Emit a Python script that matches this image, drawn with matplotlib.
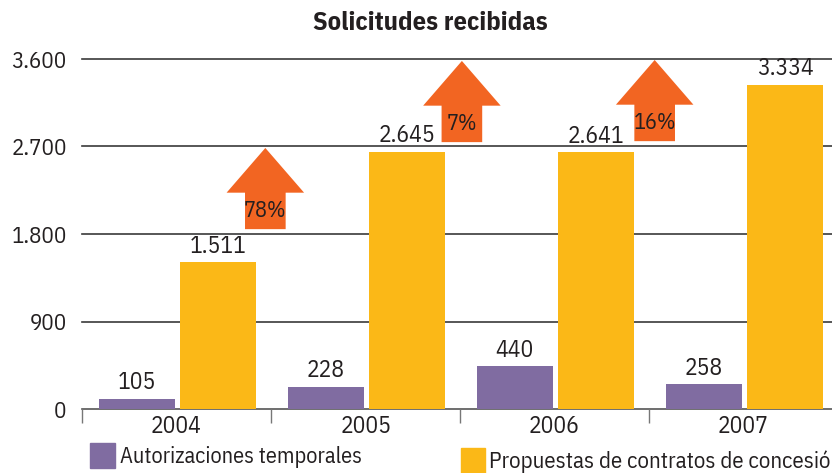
import matplotlib
matplotlib.use('Agg')
import matplotlib.pyplot as plt
from matplotlib.patches import FancyArrow, Rectangle
import numpy as np

# datos
anios = ['2004', '2005', '2006', '2007']
autorizaciones = [105, 228, 440, 258]
propuestas = [1511, 2645, 2641, 3334]
variacion = ['78%', '7%', '16%']
# posicion de las flechas (x entre años, y de la base en unidades del eje)
flechas_x = [0.47, 1.51, 2.53]
flechas_y = [1850, 2745, 2755]
yticks = [0, 900, 1800, 2700, 3600]

morado = '#806ca1'
amarillo = '#fbb817'
naranja = '#f26522'
texto = '#231f20'

plt.rcParams['font.family'] = ['IBM Plex Sans Condensed', 'DejaVu Sans']

fig = plt.figure(figsize=(8.32, 4.73), dpi=100)
ax = fig.add_axes([82 / 832, 1 - 409 / 473, 756 / 832, 350 / 473])

x = np.arange(len(anios))
ax.bar(x - 0.21, autorizaciones, width=0.40, color=morado, zorder=3)
ax.bar(x + 0.22, propuestas, width=0.40, color=amarillo, zorder=3)

for i, v in enumerate(autorizaciones):
    ax.text(x[i] - 0.21, v + 45, f'{v:,}'.replace(',', '.'), ha='center', va='bottom',
            fontsize=17, color=texto, zorder=5)
for i, v in enumerate(propuestas):
    ax.text(x[i] + 0.22, v + 45, f'{v:,}'.replace(',', '.'), ha='center', va='bottom',
            fontsize=17, color=texto, zorder=5)

for y in yticks:
    ax.axhline(y, color='#3a3a3a' if y > 0 else '#555555', lw=1.2, zorder=1, clip_on=False)

# flechas de variacion
for px, py, lab in zip(flechas_x, flechas_y, variacion):
    ar = FancyArrow(px, py, 0, 835, width=0.215, head_width=0.41, head_length=460,
                    length_includes_head=True, color=naranja, lw=0, zorder=4)
    ax.add_patch(ar)
    ax.text(px, py + 185, lab, ha='center', va='center', fontsize=16, color=texto, zorder=5)

ax.set_xlim(-0.5, 3.5)
ax.set_ylim(0, 3600)
for s in ax.spines.values():
    s.set_visible(False)

ax.set_yticks(yticks)
ax.set_yticklabels([f'{v:,}'.replace(',', '.') for v in yticks], fontsize=16.5, color=texto)
ax.tick_params(axis='y', length=0, pad=11)

ax.set_xticks(np.arange(-0.5, 4.0, 1.0))
ax.set_xticklabels([])
ax.tick_params(axis='x', which='major', length=10, width=1, color='#777777', direction='out')
ax.set_xticks(x, minor=True)
ax.set_xticklabels(anios, minor=True, fontsize=17, color=texto)
ax.tick_params(axis='x', which='minor', length=0, pad=4)

fig.text(430 / 832, 1 - 23 / 473, 'Solicitudes recibidas', ha='center', va='center',
         fontsize=19, fontweight='bold', color=texto)

# leyenda
fig.patches.append(Rectangle((90 / 832, 1 - 468 / 473), 25 / 832, 25 / 473,
                             transform=fig.transFigure, color=morado, figure=fig))
fig.text(120 / 832, 1 - 457 / 473, 'Autorizaciones temporales', ha='left', va='center',
         fontsize=16, color=texto)
fig.patches.append(Rectangle((461 / 832, 1 - 473 / 473), 24 / 832, 25 / 473,
                             transform=fig.transFigure, color=amarillo, figure=fig))
fig.text(489 / 832, 1 - 462 / 473, 'Propuestas de contratos de concesión', ha='left', va='center',
         fontsize=16.5, color=texto)

fig.savefig('out.png', dpi=100)
